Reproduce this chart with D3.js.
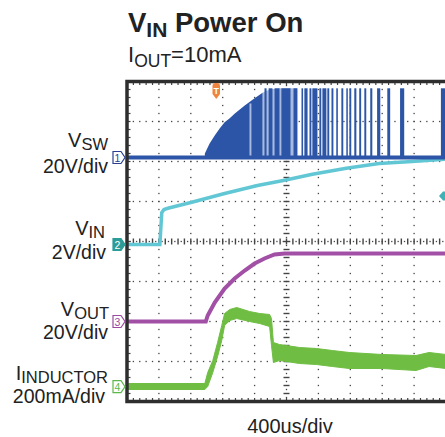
<!DOCTYPE html>
<html><head><meta charset="utf-8">
<script src="https://cdn.jsdelivr.net/npm/d3@7"></script>
<style>html,body{margin:0;padding:0;background:#fff;} svg{display:block;font-family:"Liberation Sans",Arial,Helvetica,sans-serif;}</style>
</head><body><svg id="c" width="445" height="437"></svg>
<script>
// ---------- data (time in divisions 0..10, value in screen divisions 0..8 from bottom) ----------
const gridX = d3.range(0, 11);
const gridY = d3.range(0, 9);

// Ch1 V_SW
const vswLevel = 6.1;
const vswEnvT   = [2.44, 2.59, 2.75, 2.91, 3.06, 3.22, 3.38, 3.69, 4.0, 4.25, 4.47, 4.78, 5.34];
const vswEnvTop = [6.2, 6.45, 6.65, 6.83, 6.98, 7.08, 7.2, 7.4, 7.58, 7.72, 7.8, 7.83, 7.83];
const vswStripeStart = [3.84];
const vswStripeEnd   = [3.9];
const pulseStart = [4.31, 4.44, 4.625, 4.84, 5.22, 5.47, 5.56, 5.72, 5.81, 6.03, 6.125, 6.28, 6.41, 6.56, 6.72, 6.875, 6.97, 7.125, 7.28, 7.44, 7.625, 7.84, 8.16, 8.56, 9.84];
const pulseEnd   = [4.375, 4.56, 4.78, 5.125, 5.34, 5.52, 5.66, 5.78, 5.97, 6.09, 6.25, 6.34, 6.47, 6.61, 6.78, 6.92, 7.03, 7.19, 7.34, 7.5, 7.69, 7.94, 8.25, 8.69, 10];
const pulseTop = 7.83;

// Ch2 V_IN
const vinT = [0, 1.03, 1.09, 1.16, 1.28, 2.03, 3.06, 4.09, 4.94, 5.81, 6.875, 7.9, 8.94, 10];
const vinV = [3.925, 3.925, 4.72, 4.8, 4.83, 4.98, 5.2, 5.4, 5.53, 5.68, 5.83, 5.95, 6.0, 6.06];

// Ch3 V_OUT
const voutT = [0, 2.47, 2.53, 2.75, 3.06, 3.375, 3.69, 4.0, 4.31, 4.625, 4.94, 10];
const voutV = [2.0, 2.0, 2.15, 2.475, 2.825, 3.075, 3.275, 3.45, 3.575, 3.675, 3.7, 3.7];

// Ch4 I_INDUCTOR (band: upper / lower edge)
const indT  = [0, 2.44, 2.53, 2.69, 2.84, 2.97, 3.06, 3.22, 3.44, 3.84, 4.16, 4.47, 4.53, 4.59, 4.78, 5.41, 5.94, 6.44, 6.97, 8.0, 9.06, 9.47, 10];
const indHi = [0.45, 0.45, 0.725, 1.025, 1.475, 1.9, 2.2, 2.3, 2.35, 2.25, 2.2, 2.175, 2.075, 1.475, 1.425, 1.35, 1.325, 1.275, 1.225, 1.175, 1.15, 1.225, 1.175];
const indLo = [0.3, 0.3, 0.375, 0.725, 1.125, 1.525, 1.9, 2.025, 2.075, 2.0, 1.95, 1.875, 1.4, 0.975, 1.025, 0.95, 0.925, 0.875, 0.825, 0.825, 0.775, 0.875, 0.825];

// channel labels
const chMain  = ["V", "V", "V", "I"];
const chSub   = ["SW", "IN", "OUT", "INDUCTOR"];
const chScale = ["20V/div", "2V/div", "20V/div", "200mA/div"];
const chNum   = ["1", "2", "3", "4"];
const chLevel = [vswLevel, vinV[0], voutV[0], 0.37];
const timeLabel = "400us/div";

// ---------- drawing ----------
const svg = d3.select("#c");
const xS = d3.scaleLinear().domain([0, 10]).range([127, 446]);
const yS = d3.scaleLinear().domain([0, 8]).range([401.5, 81.5]);

const C = {blue:"#2c55a7", light:"#a8badf", cyan:"#62c7d4", purple:"#a24fa6", green:"#6fbe43",
           frame:"#2e2e2e", dot:"#444"};

// grid dots
const g = svg.append("g");
const minX = (xS(1) - xS(0)) / 5, minY = (yS(0) - yS(1)) / 5;
const dot = (x, y, w, h) => g.append("rect").attr("x", x - w / 2).attr("y", y - h / 2)
  .attr("width", w).attr("height", h).attr("fill", C.dot);
gridX.forEach(i => {
  if (i === 0 || i === 5) return;
  for (let y = yS(8); y <= yS(0) + 0.1; y += minY) dot(xS(i), y, 1.3, 1.3);
});
gridY.forEach(j => {
  if (j === 0 || j === 8 || j === 4) return;
  for (let x = xS(0); x <= 446; x += minX) dot(x, yS(j), 1.3, 1.3);
});
// center axes with ticks
for (let k = 0; yS(8) + k * minY / 2 <= yS(0) + 0.1; k++) {
  const y = yS(8) + k * minY / 2;
  if (k % 2 === 0) dot(xS(5), y, 6, 1.4); else dot(xS(5), y, 1.3, 1.3);
}
for (let k = 0; xS(0) + k * minX / 2 <= 446; k++) {
  const x = xS(0) + k * minX / 2;
  if (k % 2 === 0) dot(x, yS(4), 1.4, 6); else dot(x, yS(4), 1.3, 1.3);
}
// edge ticks
for (let x = xS(0); x <= 446; x += minX) {
  g.append("rect").attr("x", x - 0.6).attr("y", yS(8)).attr("width", 1.2).attr("height", 3.5).attr("fill", C.dot);
  g.append("rect").attr("x", x - 0.6).attr("y", yS(0) - 3.5).attr("width", 1.2).attr("height", 3.5).attr("fill", C.dot);
}
for (let y = yS(8); y <= yS(0) + 0.1; y += minY)
  g.append("rect").attr("x", xS(0)).attr("y", y - 0.6).attr("width", 3.5).attr("height", 1.2).attr("fill", C.dot);

// Ch2 V_IN
const line = d3.line().x(d => xS(d[0])).y(d => yS(d[1]));
svg.append("path").datum(d3.zip(vinT, vinV)).attr("d", line)
  .attr("fill", "none").attr("stroke", C.cyan).attr("stroke-width", 3.5);

// Ch1 V_SW
const env = d3.zip(vswEnvT, vswEnvTop);
const area = d3.area().x(d => xS(d[0])).y0(yS(vswLevel)).y1(d => yS(d[1]));
svg.append("path").datum(env.filter(d => d[0] >= 4.25)).attr("d", area).attr("fill", C.light);
svg.append("path").datum(env.filter(d => d[0] <= 4.25)).attr("d", area).attr("fill", C.blue);
vswStripeStart.forEach((s, i) => {
  svg.append("rect").attr("x", xS(s)).attr("width", xS(vswStripeEnd[i]) - xS(s))
    .attr("y", yS(7.45)).attr("height", yS(vswLevel) - yS(7.45)).attr("fill", C.light);
});
pulseStart.forEach((s, i) => {
  svg.append("rect").attr("x", xS(s)).attr("width", Math.max(1.5, xS(pulseEnd[i]) - xS(s)))
    .attr("y", yS(pulseTop)).attr("height", yS(vswLevel) - yS(pulseTop)).attr("fill", C.blue);
});
svg.append("line").attr("x1", xS(0)).attr("x2", 446).attr("y1", yS(vswLevel)).attr("y2", yS(vswLevel))
  .attr("stroke", C.blue).attr("stroke-width", 4);

// Ch3 V_OUT
svg.append("path").datum(d3.zip(voutT, voutV)).attr("d", line)
  .attr("fill", "none").attr("stroke", C.purple).attr("stroke-width", 4);

// Ch4 I_INDUCTOR
const band = d3.area().x(d => xS(d[0])).y0(d => yS(d[2])).y1(d => yS(d[1]));
svg.append("path").datum(d3.zip(indT, indHi, indLo)).attr("d", band)
  .attr("fill", C.green).attr("stroke", C.green).attr("stroke-width", 1);

// frame
svg.append("path").attr("d", `M447,${yS(8)}H${xS(0)}V${yS(0)}H447`)
  .attr("fill", "none").attr("stroke", C.frame).attr("stroke-width", 3.5);

// trigger marker
svg.append("path").attr("d", "M212.5,86Q212.5,83 215.5,83H217Q220,83 220,86V94L216.25,99L212.5,94Z").attr("fill", "#f0843f");
svg.append("text").attr("x", 216.25).attr("y", 94).attr("text-anchor", "middle")
  .attr("font-size", 9).attr("font-weight", "bold").attr("fill", "#fff").text("T");
// right-edge ch2 level marker
svg.append("path").attr("d", "M446,191.5H443L439,196L443,200.5H446Z").attr("fill", "#3fb2b6");

// channel markers and labels
const mCol = ["#2b3e92", "#2c9c98", "#9b4aa0", "#5cb84a"];
const lblRight = [108, 105, 109, 108];
const scaleRight = [108, 106, 108, 105];
const mainBase = [146.5, 234.5, 315.5, 379.5];
const scaleBase = [173, 259, 339, 403];
chNum.forEach((n, i) => {
  const y = yS(chLevel[i]);
  const filled = i === 1;
  svg.append("path").attr("d", `M113,${y - 6}H121L125,${y}L121,${y + 6}H113Z`)
    .attr("fill", filled ? mCol[i] : "#fff").attr("stroke", mCol[i]).attr("stroke-width", 1.2);
  svg.append("text").attr("x", 117.5).attr("y", y + 4).attr("text-anchor", "middle")
    .attr("font-size", 10.5).attr("fill", filled ? "#fff" : mCol[i]).text(n);

  const t = svg.append("text").attr("x", lblRight[i]).attr("y", mainBase[i])
    .attr("text-anchor", "end").attr("font-size", 20).attr("fill", "#222");
  t.append("tspan").text(chMain[i]);
  t.append("tspan").attr("font-size", 16.5).attr("dy", 3.5).text(chSub[i]);
  svg.append("text").attr("x", scaleRight[i]).attr("y", scaleBase[i])
    .attr("text-anchor", "end").attr("font-size", 19.5).attr("fill", "#222").text(chScale[i]);
});

// title
const tt = svg.append("text").attr("x", 128).attr("y", 32).attr("font-size", 27.5)
  .attr("font-weight", "bold").attr("fill", "#222");
tt.append("tspan").text("V");
tt.append("tspan").attr("font-size", 21).attr("dy", 5).text("IN");
tt.append("tspan").attr("dy", -5).text(" Power On");
const st = svg.append("text").attr("x", 128).attr("y", 62).attr("font-size", 22).attr("fill", "#222");
st.append("tspan").text("I");
st.append("tspan").attr("font-size", 17.5).attr("dy", 5).text("OUT");
st.append("tspan").attr("dy", -5).text("=10mA");

svg.append("text").attr("x", 290).attr("y", 433).attr("text-anchor", "middle")
  .attr("font-size", 20).attr("fill", "#222").text(timeLabel);
</script></body></html>
